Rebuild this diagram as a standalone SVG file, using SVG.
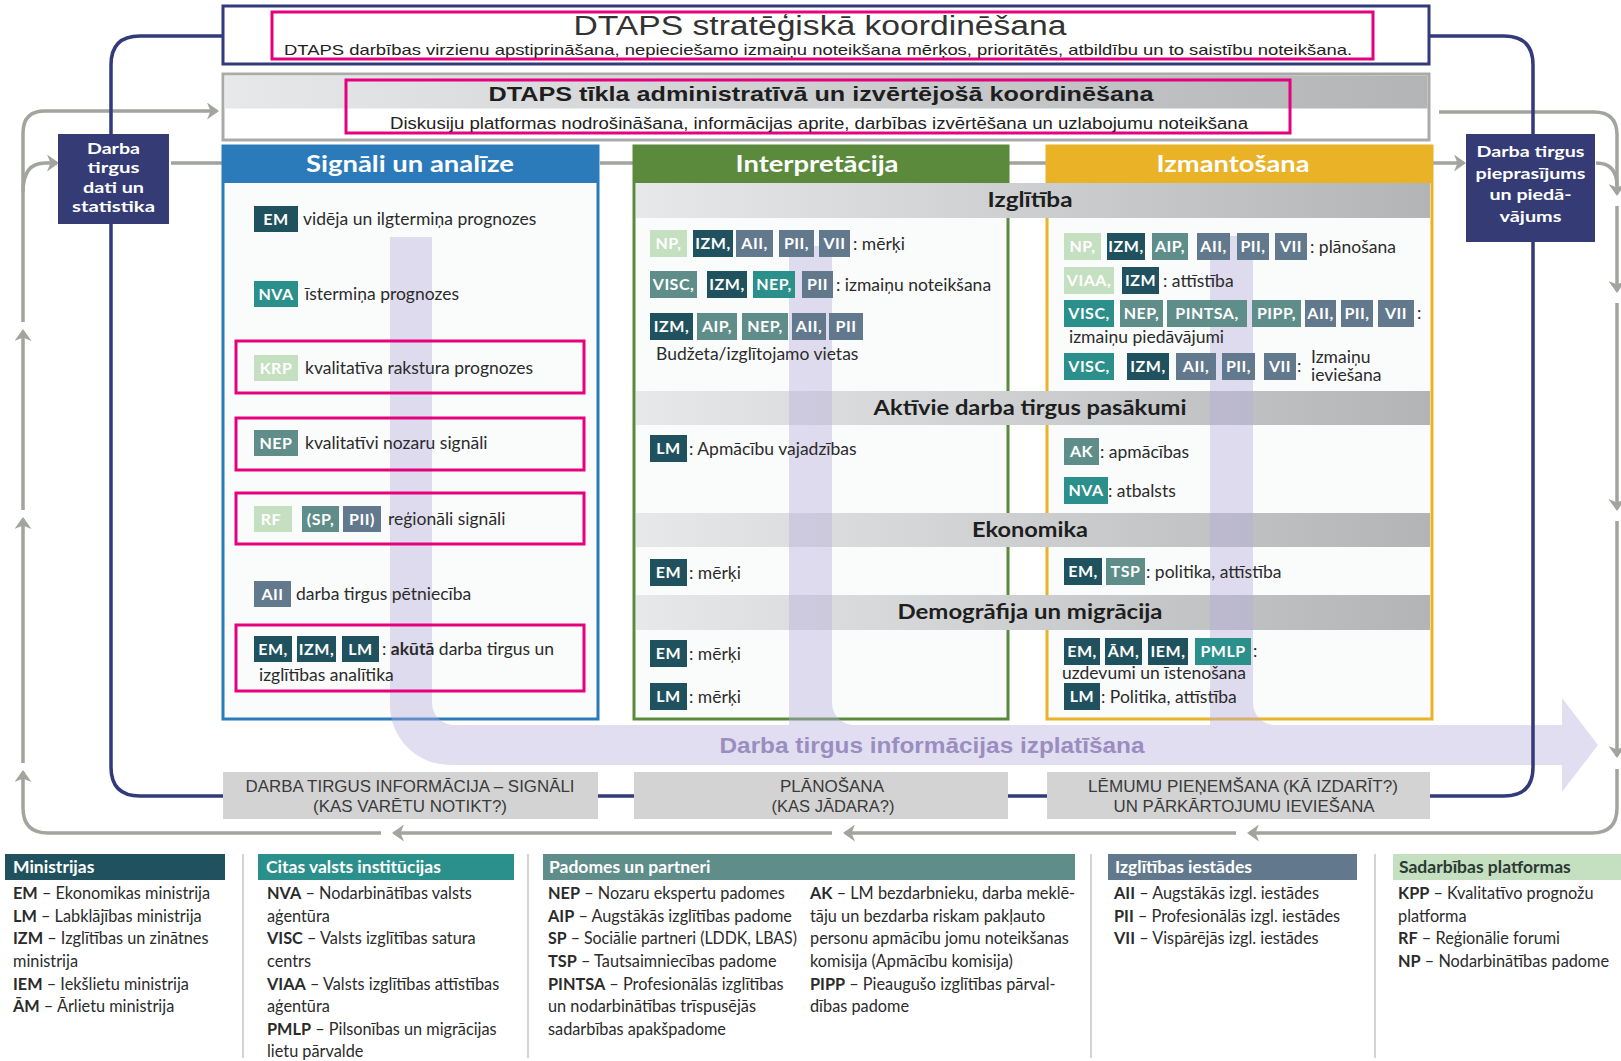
<svg xmlns="http://www.w3.org/2000/svg" width="1621" height="1061" viewBox="0 0 1621 1061">
<defs>
<style>
.t{font-family:Lato,"Noto Sans",sans-serif;font-size:17.5px;fill:#2b2b2b}
.lg{font-family:Lato,"Noto Sans",sans-serif;font-size:16.3px;fill:#2b2b2b}
.b{font-weight:700}
.cond{font-family:"Liberation Sans",Arial,sans-serif}
.tag text{font-family:Lato,"Noto Sans",sans-serif;font-weight:700;font-size:16px;fill:#fff;text-anchor:middle;letter-spacing:0.5px}
.dk{fill:#1f525e}.tl{fill:#2b8f8b}.gt{fill:#5f8d89}.sl{fill:#62788d}.lgn{fill:#c5dfc1}
.gl{fill:none;stroke:#a1a59d;stroke-width:3.5}
.pink{fill:none;stroke:#e5007e;stroke-width:3}
.hd{font-family:Lato,"Noto Sans",sans-serif;font-weight:700;font-size:22px;fill:#fff;text-anchor:middle}
.bh{font-family:Lato,"Noto Sans",sans-serif;font-weight:700;font-size:20px;fill:#1e1e1e;text-anchor:middle}
.nv{font-family:Lato,"Noto Sans",sans-serif;font-weight:700;font-size:16px;fill:#fff;text-anchor:middle}
.bb{font-family:"Liberation Sans",Arial,sans-serif;font-size:16px;fill:#3a3a3a;text-anchor:middle}
.lh{font-family:Lato,"Noto Sans",sans-serif;font-weight:700;font-size:17.5px;fill:#fff}
</style>
<linearGradient id="band" x1="0" x2="1" y1="0" y2="0"><stop offset="0" stop-color="#e7e8ea"/><stop offset="1" stop-color="#b2b4b6"/></linearGradient>
<marker id="ah" markerUnits="userSpaceOnUse" markerWidth="12" markerHeight="17" viewBox="0 0 12 17" refX="10" refY="8.5" orient="auto"><path d="M0,0 L12,8.5 L0,17 L3.5,8.5 z" fill="#a1a59d"/></marker>
</defs>
<rect width="1621" height="1061" fill="#fff"/>

<!-- gray feedback connectors -->
<g id="connectors">
<path class="gl" d="M381,833 H48 Q23,833 23,808 V772" marker-end="url(#ah)"/>
<path class="gl" d="M23,763 V519" marker-end="url(#ah)"/>
<path class="gl" d="M23,510 V331" marker-end="url(#ah)"/>
<path class="gl" d="M23,322 V133 Q23,111 45,111 H217" marker-end="url(#ah)"/>
<path class="gl" d="M23,192 Q23,163 45,163 H57" marker-end="url(#ah)"/>
<path class="gl" d="M171,163 H247" marker-end="url(#ah)"/>
<path class="gl" d="M600,163 H659" marker-end="url(#ah)"/>
<path class="gl" d="M986,163 H1071" marker-end="url(#ah)"/>
<path class="gl" d="M1418,163 H1464" marker-end="url(#ah)"/>
<path class="gl" d="M1439,112 H1594 Q1617,112 1617,135 V194" marker-end="url(#ah)"/>
<path class="gl" d="M1596,163 Q1617,163 1617,186"/>
<path class="gl" d="M1617,206 V291" marker-end="url(#ah)"/>
<path class="gl" d="M1617,303 V509" marker-end="url(#ah)"/>
<path class="gl" d="M1617,521 V756" marker-end="url(#ah)"/>
<path class="gl" d="M1617,769 V808 Q1617,833 1592,833 H1249" marker-end="url(#ah)"/>
<path class="gl" d="M1236,833 H845" marker-end="url(#ah)"/>
<path class="gl" d="M832,833 H394" marker-end="url(#ah)"/>
</g>

<!-- columns -->
<g id="col-signali">
<rect x="223" y="146" width="375" height="573" fill="#fafbfb" stroke="#2b7bba" stroke-width="3"/>
<rect x="223" y="146" width="375" height="37" fill="#2b7bba"/>
<text class="hd" x="410" y="172" textLength="208" lengthAdjust="spacingAndGlyphs">Signāli un analīze</text>
</g>
<g id="col-interpretacija">
<rect x="634" y="146" width="374" height="573" fill="#fafbfb" stroke="#5b8a3c" stroke-width="3"/>
<rect x="634" y="146" width="374" height="37" fill="#5b8a3c"/>
<text class="hd" x="817" y="172" textLength="163" lengthAdjust="spacingAndGlyphs">Interpretācija</text>
</g>
<g id="col-izmantosana">
<rect x="1047" y="146" width="385" height="573" fill="#fafbfb" stroke="#e9b227" stroke-width="3"/>
<rect x="1047" y="146" width="385" height="37" fill="#e9b227"/>
<text class="hd" x="1233" y="172" textLength="153" lengthAdjust="spacingAndGlyphs">Izmantošana</text>
</g>

<!-- section bands -->
<g id="bands">
<rect x="636" y="183" width="794" height="35" fill="url(#band)"/>
<text class="bh cond" x="1030" y="207" textLength="85" lengthAdjust="spacingAndGlyphs">Izglītība</text>
<rect x="636" y="391" width="794" height="34" fill="url(#band)"/>
<text class="bh" x="1030" y="415" textLength="313" lengthAdjust="spacingAndGlyphs">Aktīvie darba tirgus pasākumi</text>
<rect x="636" y="513" width="794" height="34" fill="url(#band)"/>
<text class="bh" x="1030" y="537" textLength="116" lengthAdjust="spacingAndGlyphs">Ekonomika</text>
<rect x="636" y="595" width="794" height="35" fill="url(#band)"/>
<text class="bh" x="1030" y="619" textLength="265" lengthAdjust="spacingAndGlyphs">Demogrāfija un migrācija</text>
</g>

<!-- dissemination arrow -->
<g id="izplatisana">
<path d="M390,237 H432 V703 A22,22 0 0 0 454,725 H789 V246 H832 V703 A22,22 0 0 0 854,725 H1210 V236 H1253 V703 A22,22 0 0 0 1275,725 H1562 V698 L1598,745 L1562,792 V765 H450 A60,60 0 0 1 390,705 Z" fill="#b6acdc" fill-opacity="0.4"/>
<text x="932" y="753" font-family="'Liberation Sans',Arial,sans-serif" font-weight="700" font-size="22" fill="#9a8dc0" text-anchor="middle" textLength="425" lengthAdjust="spacingAndGlyphs">Darba tirgus informācijas izplatīšana</text>
</g>

<!-- navy coordination line -->
<path id="navy-line" d="M223,36 H140 Q111,36 111,65 V767 Q111,796 140,796 H1504 Q1533,796 1533,767 V65 Q1533,36 1504,36 H1429" fill="none" stroke="#323a7a" stroke-width="3.5"/>

<!-- top boxes -->
<g id="strategic">
<rect x="223" y="6" width="1206" height="58" fill="#fff" stroke="#323a7a" stroke-width="3"/>
<rect class="pink" x="272" y="12" width="1101" height="47"/>
<text class="cond" x="820" y="35" font-size="27" fill="#333" text-anchor="middle" textLength="493" lengthAdjust="spacingAndGlyphs">DTAPS stratēģiskā koordinēšana</text>
<text class="cond" x="818" y="55" font-size="15" fill="#222" text-anchor="middle" textLength="1068" lengthAdjust="spacingAndGlyphs">DTAPS darbības virzienu apstiprināšana, nepieciešamo izmaiņu noteikšana mērķos, prioritātēs, atbildību un to saistību noteikšana.</text>
</g>
<g id="administrative">
<rect x="223" y="74" width="1206" height="66" fill="#fff" stroke="#a9aba9" stroke-width="3"/>
<rect x="224.5" y="75.5" width="1203" height="33" fill="url(#band)"/>
<rect class="pink" x="346" y="80" width="944" height="53"/>
<text class="cond" x="821" y="101" font-size="21" font-weight="700" fill="#1e1e1e" text-anchor="middle" textLength="665" lengthAdjust="spacingAndGlyphs">DTAPS tīkla administratīvā un izvērtējošā koordinēšana</text>
<text class="cond" x="819" y="129" font-size="16" fill="#222" text-anchor="middle" textLength="858" lengthAdjust="spacingAndGlyphs">Diskusiju platformas nodrošināšana, informācijas aprite, darbības izvērtēšana un uzlabojumu noteikšana</text>
</g>

<!-- side boxes -->
<g id="darba-dati">
<rect x="58" y="134" width="111" height="90" fill="#343b75"/>
<text class="nv" x="113.5" y="154" textLength="53" lengthAdjust="spacingAndGlyphs">Darba</text>
<text class="nv" x="113.5" y="173" textLength="52" lengthAdjust="spacingAndGlyphs">tirgus</text>
<text class="nv" x="113.5" y="193" textLength="61" lengthAdjust="spacingAndGlyphs">dati un</text>
<text class="nv" x="113.5" y="212" textLength="83" lengthAdjust="spacingAndGlyphs">statistika</text>
</g>
<g id="darba-pieprasijums">
<rect x="1466" y="134" width="129" height="108" fill="#343b75"/>
<text class="nv" x="1530.5" y="157" textLength="108" lengthAdjust="spacingAndGlyphs">Darba tirgus</text>
<text class="nv" x="1530.5" y="179" textLength="110" lengthAdjust="spacingAndGlyphs">pieprasījums</text>
<text class="nv" x="1530.5" y="200" textLength="82" lengthAdjust="spacingAndGlyphs">un piedā-</text>
<text class="nv" x="1530.5" y="222" textLength="62" lengthAdjust="spacingAndGlyphs">vājums</text>
</g>

<!-- Signāli content -->
<g id="signali-items">
<rect class="pink" x="236" y="341" width="348" height="52"/>
<rect class="pink" x="236" y="418" width="348" height="52"/>
<rect class="pink" x="236" y="493" width="348" height="51"/>
<rect class="pink" x="236" y="625" width="348" height="66"/>
<g class="tag"><rect class="dk" x="254" y="206" width="44" height="26"/><text x="276" y="225">EM</text></g>
<text class="t" x="303" y="225">vidēja un ilgtermiņa prognozes</text>
<g class="tag"><rect class="tl" x="254" y="281" width="44" height="26"/><text x="276" y="300">NVA</text></g>
<text class="t" x="305" y="300">īstermiņa prognozes</text>
<g class="tag"><rect class="lgn" x="254" y="355" width="44" height="26"/><text x="276" y="374">KRP</text></g>
<text class="t" x="305" y="374">kvalitatīva rakstura prognozes</text>
<g class="tag"><rect class="gt" x="254" y="430" width="44" height="26"/><text x="276" y="449">NEP</text></g>
<text class="t" x="305" y="449">kvalitatīvi nozaru signāli</text>
<g class="tag"><rect class="lgn" x="254" y="506" width="38" height="26"/><text x="271" y="525">RF</text></g>
<g class="tag"><rect class="gt" x="302" y="506" width="37" height="26"/><text x="320.5" y="525">(SP,</text></g>
<g class="tag"><rect class="sl" x="343" y="506" width="38" height="26"/><text x="362" y="525">PII)</text></g>
<text class="t" x="388" y="525">reģionāli signāli</text>
<g class="tag"><rect class="sl" x="254" y="581" width="37" height="26"/><text x="272.5" y="600">AII</text></g>
<text class="t" x="296" y="600">darba tirgus pētniecība</text>
<g class="tag"><rect class="dk" x="254" y="636" width="38" height="26"/><text x="273" y="655">EM,</text></g>
<g class="tag"><rect class="dk" x="297" y="636" width="39" height="26"/><text x="316.5" y="655">IZM,</text></g>
<g class="tag"><rect class="dk" x="342" y="636" width="37" height="26"/><text x="360.5" y="655">LM</text></g>
<text class="t" x="382" y="655">: <tspan class="b">akūtā</tspan> darba tirgus un</text>
<text class="t" x="259" y="681">izglītības analītika</text>
</g>

<!-- Interpretācija content -->
<g id="interpretacija-items">
<g class="tag"><rect class="lgn" x="650" y="230" width="37" height="27"/><text x="668.5" y="249">NP,</text></g>
<g class="tag"><rect class="dk" x="693" y="230" width="40" height="27"/><text x="713" y="249">IZM,</text></g>
<g class="tag"><rect class="sl" x="736" y="230" width="37" height="27"/><text x="754.5" y="249">AII,</text></g>
<g class="tag"><rect class="sl" x="779" y="230" width="35" height="27"/><text x="796.5" y="249">PII,</text></g>
<g class="tag"><rect class="sl" x="819" y="230" width="31" height="27"/><text x="834.5" y="249">VII</text></g>
<text class="t" x="853" y="250">:  mērķi</text>
<g class="tag"><rect class="gt" x="650" y="271" width="47" height="27"/><text x="673.5" y="290">VISC,</text></g>
<g class="tag"><rect class="dk" x="707" y="271" width="40" height="27"/><text x="727" y="290">IZM,</text></g>
<g class="tag"><rect class="tl" x="753" y="271" width="42" height="27"/><text x="774" y="290">NEP,</text></g>
<g class="tag"><rect class="sl" x="802" y="271" width="31" height="27"/><text x="817.5" y="290">PII</text></g>
<text class="t" x="836" y="291">: izmaiņu noteikšana</text>
<g class="tag"><rect class="dk" x="650" y="313" width="43" height="27"/><text x="671.5" y="332">IZM,</text></g>
<g class="tag"><rect class="gt" x="697" y="313" width="40" height="27"/><text x="717" y="332">AIP,</text></g>
<g class="tag"><rect class="gt" x="742" y="313" width="46" height="27"/><text x="765" y="332">NEP,</text></g>
<g class="tag"><rect class="sl" x="792" y="313" width="34" height="27"/><text x="809" y="332">AII,</text></g>
<g class="tag"><rect class="sl" x="829" y="313" width="34" height="27"/><text x="846" y="332">PII</text></g>
<text class="t" x="656" y="360">Budžeta/izglītojamo vietas</text>
<g class="tag"><rect class="dk" x="650" y="435" width="37" height="27"/><text x="668.5" y="454">LM</text></g>
<text class="t" x="689" y="455">:  Apmācību vajadzības</text>
<g class="tag"><rect class="dk" x="650" y="559" width="37" height="27"/><text x="668.5" y="578">EM</text></g>
<text class="t" x="689" y="579">:  mērķi</text>
<g class="tag"><rect class="dk" x="650" y="640" width="37" height="27"/><text x="668.5" y="659">EM</text></g>
<text class="t" x="689" y="660">:  mērķi</text>
<g class="tag"><rect class="dk" x="650" y="683" width="37" height="27"/><text x="668.5" y="702">LM</text></g>
<text class="t" x="689" y="703">:  mērķi</text>
</g>

<!-- Izmantošana content -->
<g id="izmantosana-items">
<g class="tag"><rect class="lgn" x="1064" y="233" width="37" height="27"/><text x="1082.5" y="252">NP,</text></g>
<g class="tag"><rect class="dk" x="1107" y="233" width="38" height="27"/><text x="1126" y="252">IZM,</text></g>
<g class="tag"><rect class="gt" x="1152" y="233" width="36" height="27"/><text x="1170" y="252">AIP,</text></g>
<g class="tag"><rect class="sl" x="1197" y="233" width="33" height="27"/><text x="1213.5" y="252">AII,</text></g>
<g class="tag"><rect class="sl" x="1237" y="233" width="32" height="27"/><text x="1253" y="252">PII,</text></g>
<g class="tag"><rect class="sl" x="1275" y="233" width="32" height="27"/><text x="1291" y="252">VII</text></g>
<text class="t" x="1310" y="253">: plānošana</text>
<g class="tag"><rect class="lgn" x="1064" y="267" width="50" height="27"/><text x="1089" y="286">VIAA,</text></g>
<g class="tag"><rect class="dk" x="1122" y="267" width="37" height="27"/><text x="1140.5" y="286">IZM</text></g>
<text class="t" x="1163" y="287">: attīstība</text>
<g class="tag"><rect class="tl" x="1064" y="300" width="50" height="27"/><text x="1089" y="319">VISC,</text></g>
<g class="tag"><rect class="gt" x="1120" y="300" width="43" height="27"/><text x="1141.5" y="319">NEP,</text></g>
<g class="tag"><rect class="gt" x="1167" y="300" width="80" height="27"/><text x="1207" y="319">PINTSA,</text></g>
<g class="tag"><rect class="gt" x="1252" y="300" width="49" height="27"/><text x="1276.5" y="319">PIPP,</text></g>
<g class="tag"><rect class="sl" x="1305" y="300" width="31" height="27"/><text x="1320.5" y="319">AII,</text></g>
<g class="tag"><rect class="sl" x="1341" y="300" width="32" height="27"/><text x="1357" y="319">PII,</text></g>
<g class="tag"><rect class="sl" x="1378" y="300" width="36" height="27"/><text x="1396" y="319">VII</text></g>
<text class="t" x="1417" y="319">:</text>
<text class="t" x="1069" y="343">izmaiņu piedāvājumi</text>
<g class="tag"><rect class="tl" x="1064" y="353" width="50" height="27"/><text x="1089" y="372">VISC,</text></g>
<g class="tag"><rect class="dk" x="1127" y="353" width="42" height="27"/><text x="1148" y="372">IZM,</text></g>
<g class="tag"><rect class="sl" x="1176" y="353" width="40" height="27"/><text x="1196" y="372">AII,</text></g>
<g class="tag"><rect class="sl" x="1222" y="353" width="33" height="27"/><text x="1238.5" y="372">PII,</text></g>
<g class="tag"><rect class="sl" x="1264" y="353" width="32" height="27"/><text x="1280" y="372">VII</text></g>
<text class="t" x="1297" y="372">:</text>
<text class="t" x="1311" y="363">Izmaiņu</text>
<text class="t" x="1311" y="381">ieviešana</text>
<g class="tag"><rect class="gt" x="1064" y="438" width="35" height="27"/><text x="1081.5" y="457">AK</text></g>
<text class="t" x="1100" y="458">:  apmācības</text>
<g class="tag"><rect class="tl" x="1064" y="477" width="44" height="27"/><text x="1086" y="496">NVA</text></g>
<text class="t" x="1108" y="497">:  atbalsts</text>
<g class="tag"><rect class="dk" x="1064" y="558" width="38" height="27"/><text x="1083" y="577">EM,</text></g>
<g class="tag"><rect class="gt" x="1106" y="558" width="39" height="27"/><text x="1125.5" y="577">TSP</text></g>
<text class="t" x="1146" y="578">: politika, attīstība</text>
<g class="tag"><rect class="dk" x="1064" y="638" width="36" height="27"/><text x="1082" y="657">EM,</text></g>
<g class="tag"><rect class="dk" x="1105" y="638" width="37" height="27"/><text x="1123.5" y="657">ĀM,</text></g>
<g class="tag"><rect class="dk" x="1148" y="638" width="40" height="27"/><text x="1168" y="657">IEM,</text></g>
<g class="tag"><rect class="tl" x="1195" y="638" width="56" height="27"/><text x="1223" y="657">PMLP</text></g>
<text class="t" x="1253" y="657">:</text>
<text class="t" x="1062" y="679">uzdevumi un īstenošana</text>
<g class="tag"><rect class="dk" x="1064" y="683" width="36" height="27"/><text x="1082" y="702">LM</text></g>
<text class="t" x="1101" y="703">: Politika, attīstība</text>
</g>

<!-- bottom phase boxes -->
<g id="phase-signali">
<rect x="223" y="772" width="375" height="47" fill="#d3d3d3"/>
<text class="bb" x="410" y="792" textLength="329" lengthAdjust="spacingAndGlyphs">DARBA TIRGUS INFORMĀCIJA – SIGNĀLI</text>
<text class="bb" x="410" y="812" textLength="194" lengthAdjust="spacingAndGlyphs">(KAS VARĒTU NOTIKT?)</text>
</g>
<g id="phase-planosana">
<rect x="634" y="772" width="374" height="47" fill="#d3d3d3"/>
<text class="bb" x="832" y="792" textLength="104" lengthAdjust="spacingAndGlyphs">PLĀNOŠANA</text>
<text class="bb" x="833" y="812" textLength="123" lengthAdjust="spacingAndGlyphs">(KAS JĀDARA?)</text>
</g>
<g id="phase-lemumi">
<rect x="1047" y="772" width="383" height="47" fill="#d3d3d3"/>
<text class="bb" x="1243" y="792" textLength="310" lengthAdjust="spacingAndGlyphs">LĒMUMU PIEŅEMŠANA (KĀ IZDARĪT?)</text>
<text class="bb" x="1244" y="812" textLength="261" lengthAdjust="spacingAndGlyphs">UN PĀRKĀRTOJUMU IEVIEŠANA</text>
</g>

<!-- legend -->
<g id="legend">
<g stroke="#d4d4d4" stroke-width="2">
<line x1="243" y1="854" x2="243" y2="1058"/>
<line x1="528" y1="854" x2="528" y2="1058"/>
<line x1="1091" y1="854" x2="1091" y2="1058"/>
<line x1="1375" y1="854" x2="1375" y2="1058"/>
</g>
<g id="legend-ministrijas">
<rect x="5" y="854" width="220" height="26" fill="#1f525e"/>
<text class="lh" x="13" y="873">Ministrijas</text>
<text class="lg" x="13" y="899"><tspan class="b">EM</tspan> – Ekonomikas ministrija</text>
<text class="lg" x="13" y="922"><tspan class="b">LM</tspan> – Labklājības ministrija</text>
<text class="lg" x="13" y="944"><tspan class="b">IZM</tspan> – Izglītības un zinātnes</text>
<text class="lg" x="13" y="967">ministrija</text>
<text class="lg" x="13" y="990"><tspan class="b">IEM</tspan> – Iekšlietu ministrija</text>
<text class="lg" x="13" y="1012"><tspan class="b">ĀM</tspan> – Ārlietu ministrija</text>
</g>
<g id="legend-citas">
<rect x="258" y="854" width="256" height="26" fill="#2b8f8b"/>
<text class="lh" x="266" y="873">Citas valsts institūcijas</text>
<text class="lg" x="267" y="899"><tspan class="b">NVA</tspan> – Nodarbinātības valsts</text>
<text class="lg" x="267" y="922">aģentūra</text>
<text class="lg" x="267" y="944"><tspan class="b">VISC</tspan> – Valsts izglītības satura</text>
<text class="lg" x="267" y="967">centrs</text>
<text class="lg" x="267" y="990"><tspan class="b">VIAA</tspan> – Valsts izglītības attīstības</text>
<text class="lg" x="267" y="1012">aģentūra</text>
<text class="lg" x="267" y="1035"><tspan class="b">PMLP</tspan> – Pilsonības un migrācijas</text>
<text class="lg" x="267" y="1057">lietu pārvalde</text>
</g>
<g id="legend-padomes">
<rect x="543" y="854" width="532" height="26" fill="#5f8d89"/>
<text class="lh" x="549" y="873">Padomes un partneri</text>
<text class="lg" x="548" y="899"><tspan class="b">NEP</tspan> – Nozaru ekspertu padomes</text>
<text class="lg" x="548" y="922"><tspan class="b">AIP</tspan> – Augstākās izglītības padome</text>
<text class="lg" x="548" y="944" textLength="249" lengthAdjust="spacingAndGlyphs"><tspan class="b">SP</tspan> – Sociālie partneri (LDDK, LBAS)</text>
<text class="lg" x="548" y="967"><tspan class="b">TSP</tspan> – Tautsaimniecības padome</text>
<text class="lg" x="548" y="990"><tspan class="b">PINTSA</tspan> – Profesionālās izglītības</text>
<text class="lg" x="548" y="1012">un nodarbinātības trīspusējās</text>
<text class="lg" x="548" y="1035">sadarbības apakšpadome</text>
<text class="lg" x="810" y="899"><tspan class="b">AK</tspan> – LM bezdarbnieku, darba meklē-</text>
<text class="lg" x="810" y="922">tāju un bezdarba riskam pakļauto</text>
<text class="lg" x="810" y="944">personu apmācību jomu noteikšanas</text>
<text class="lg" x="810" y="967">komisija (Apmācību komisija)</text>
<text class="lg" x="810" y="990"><tspan class="b">PIPP</tspan> – Pieaugušo izglītības pārval-</text>
<text class="lg" x="810" y="1012">dības padome</text>
</g>
<g id="legend-iestades">
<rect x="1108" y="854" width="249" height="26" fill="#62788d"/>
<text class="lh" x="1115" y="873">Izglītības iestādes</text>
<text class="lg" x="1114" y="899"><tspan class="b">AII</tspan> – Augstākās izgl. iestādes</text>
<text class="lg" x="1114" y="922"><tspan class="b">PII</tspan> – Profesionālās izgl. iestādes</text>
<text class="lg" x="1114" y="944"><tspan class="b">VII</tspan> – Vispārējās izgl. iestādes</text>
</g>
<g id="legend-platformas">
<rect x="1393" y="854" width="228" height="26" fill="#c5dfc1"/>
<text class="lh" x="1399" y="873" style="fill:#2b3a32">Sadarbības platformas</text>
<text class="lg" x="1398" y="899"><tspan class="b">KPP</tspan> – Kvalitatīvo prognožu</text>
<text class="lg" x="1398" y="922">platforma</text>
<text class="lg" x="1398" y="944"><tspan class="b">RF</tspan> – Reģionālie forumi</text>
<text class="lg" x="1398" y="967"><tspan class="b">NP</tspan> – Nodarbinātības padome</text>
</g>
</g>
</svg>
